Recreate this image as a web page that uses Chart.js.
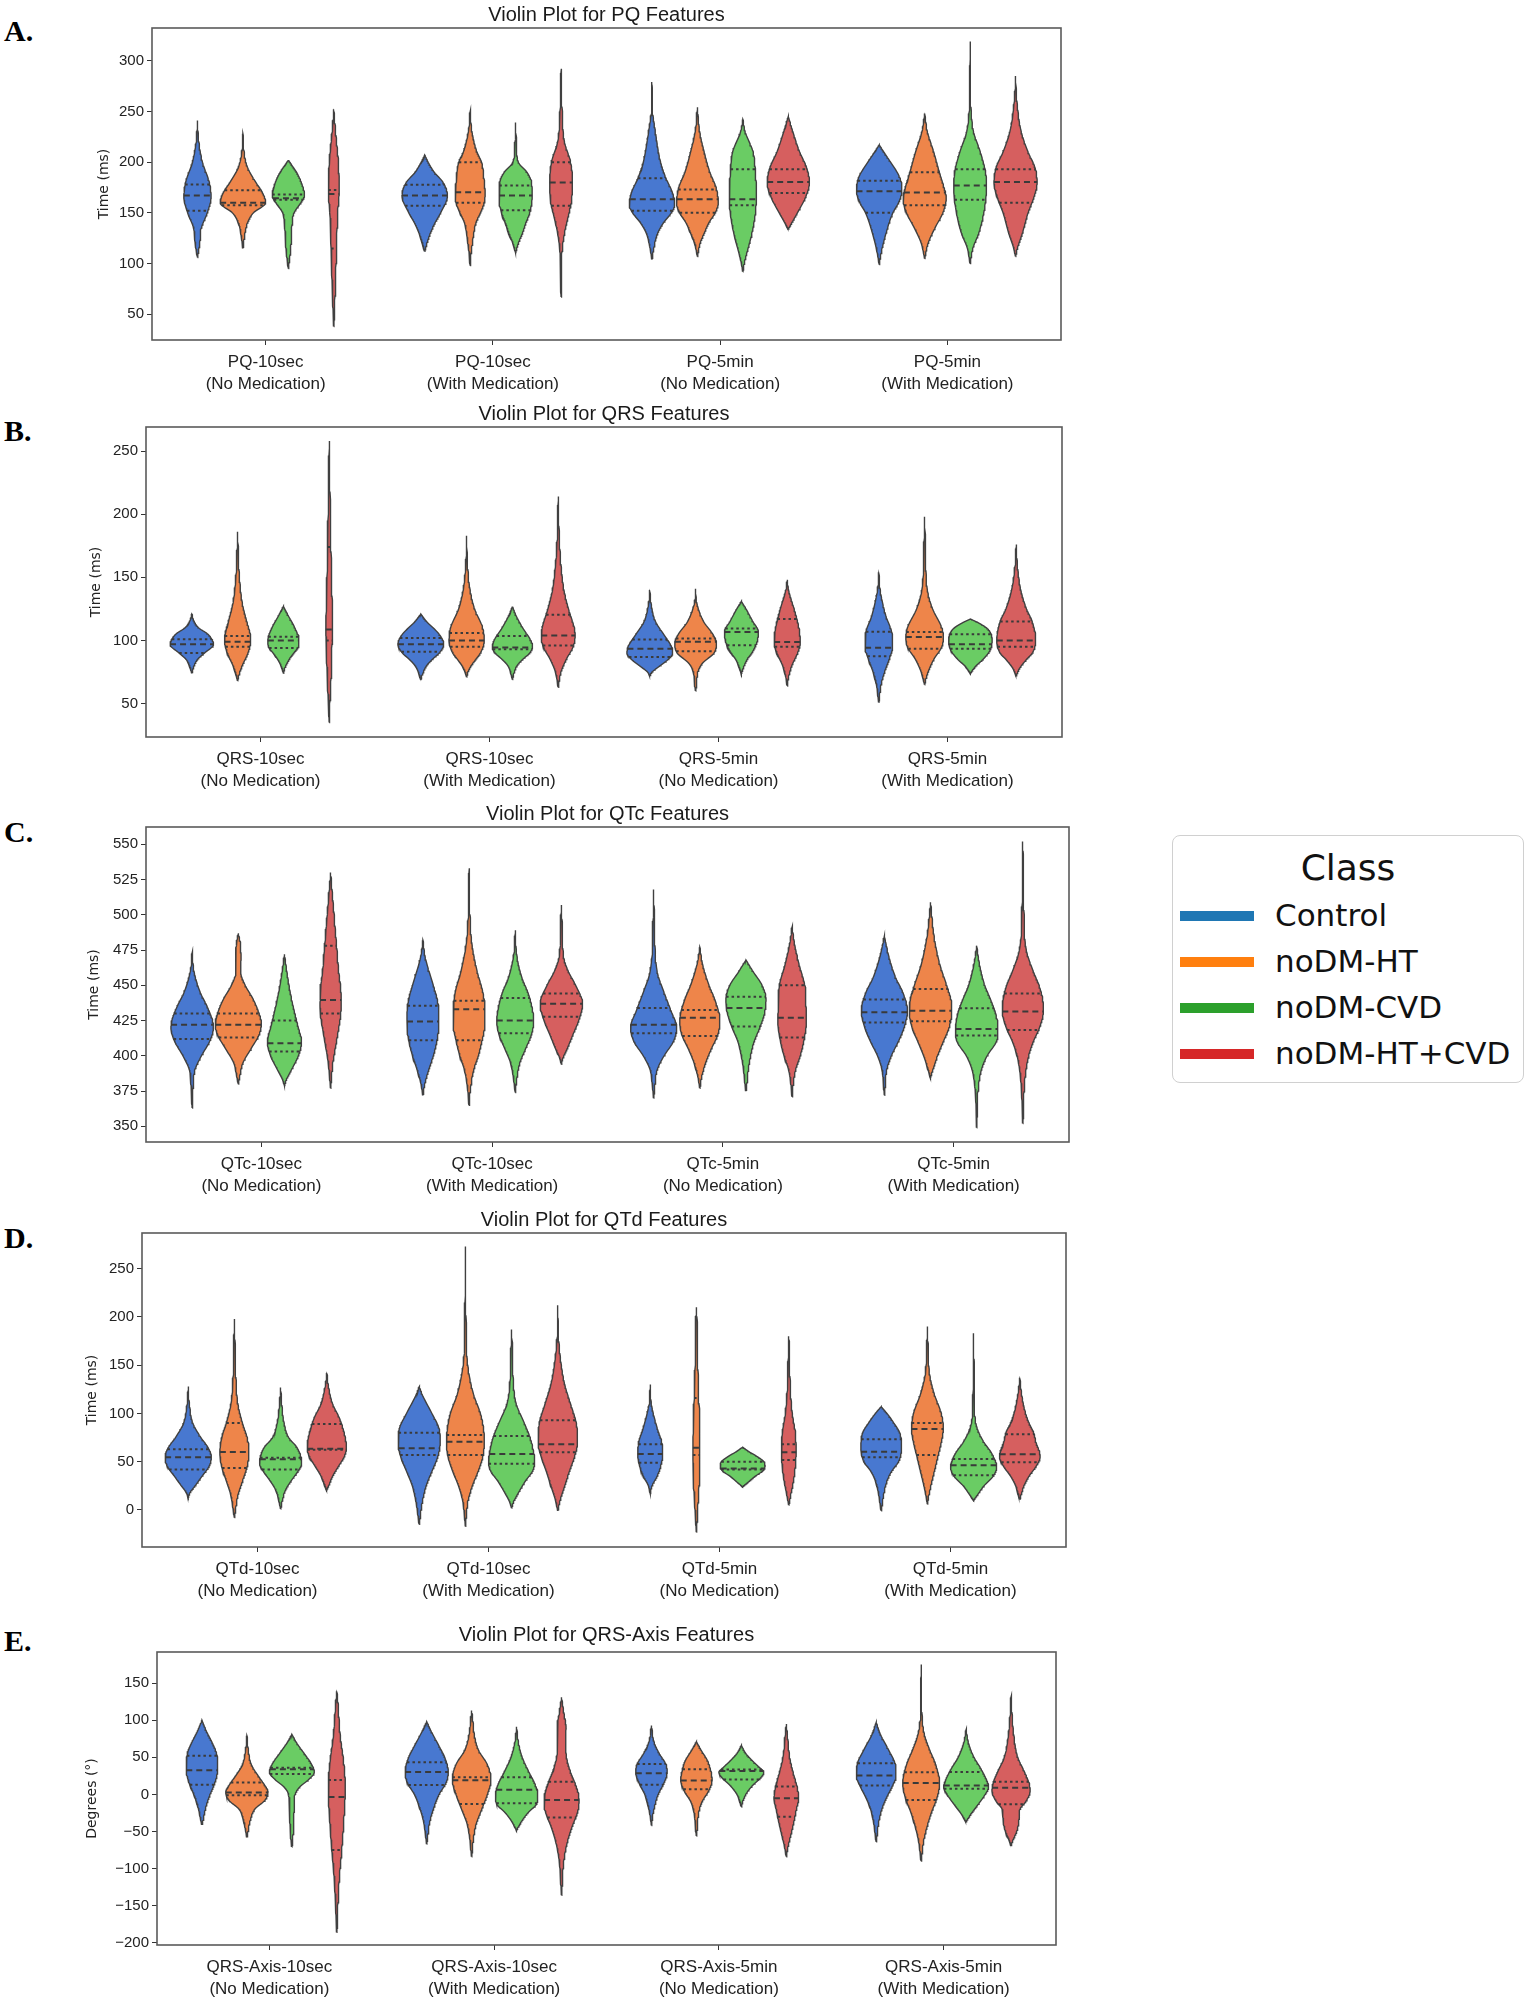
<!DOCTYPE html>
<html>
<head>
<meta charset="utf-8">
<script src="https://cdn.jsdelivr.net/npm/chart.js@4.4.0/dist/chart.umd.min.js"></script>
<style>
  body { margin: 0; background: #fff; width: 1535px; height: 2006px; position: relative; overflow: hidden; }
  canvas { position: absolute; left: 0; }
  .tag { position: absolute; left: 4px; font: bold 30px 'Liberation Serif', 'Times New Roman', serif; color: #000; transform: translateY(-50%); }
  #legend { position: absolute; left: 1172px; top: 835px; width: 352px; height: 248px; box-sizing: border-box;
            border: 1.5px solid #d0d0d0; border-radius: 8px; font-family: 'DejaVu Sans', sans-serif; color: #111; }
  #legend .head { position: absolute; left: 0; right: 0; top: 10px; text-align: center; font-size: 36px; line-height: 44px; }
  #legend .row { position: absolute; left: 7px; height: 40px; line-height: 40px; font-size: 31px; white-space: nowrap; }
  #legend .sw { display: inline-block; width: 74px; height: 10px; vertical-align: middle; margin-right: 21px; position: relative; top: -2px; }
</style>
</head>
<body>
<div id="legend"><div class="head">Class</div></div>
<script>
// Classes and colours
const classes = ['Control', 'noDM-HT', 'noDM-CVD', 'noDM-HT+CVD'];
const violinColors = ['#4878d0', '#ee854a', '#6acc64', '#d65f5f'];
const legendColors = ['#1f77b4', '#ff7f0e', '#2ca02c', '#d62728'];
const hueOffsets = [-0.3, -0.1, 0.1, 0.3];

// ---- PQ ----
const pqLabels = [['PQ-10sec', '(No Medication)'], ['PQ-10sec', '(With Medication)'], ['PQ-5min', '(No Medication)'], ['PQ-5min', '(With Medication)']];
const pqTicks = [50, 100, 150, 200, 250, 300];
const pqRange = [24.7, 332.2];
// [q1, median, q3] per violin, group by group
const pqQuartiles = [
  [152, 167, 178], [157.4, 160, 172.4], [163, 164.5, 168], [115, 168.5, 172.6],
  [157, 167, 177.6], [160, 170.4, 200], [152.6, 167, 177], [157, 180, 200],
  [152, 163.5, 184], [150, 163.5, 173], [157.5, 163.5, 193], [169.5, 180.5, 193],
  [150, 171.4, 181.6], [157.4, 170, 190], [163, 177, 193], [160, 180.5, 193]
];
// density outline: [value, relative width]
const pqShapes = [
  [[106,0],[120,0.1],[135,0.17],[150,0.43],[166,0.6],[180,0.52],[200,0.22],[220,0.06],[241,0]],
  [[115,0],[125,0.06],[140,0.2],[150,0.46],[160,1.0],[170,0.86],[180,0.57],[195,0.2],[210,0.05],[228,0]],
  [[95,0],[110,0.08],[120,0.12],[140,0.17],[150,0.25],[160,0.55],[167,0.71],[180,0.57],[190,0.36],[197,0.15],[202,0]],
  [[38,0],[60,0.04],[100,0.1],[150,0.17],[172,0.24],[200,0.2],[220,0.12],[240,0.04],[252,0]],
  [[112,0],[120,0.1],[130,0.25],[140,0.45],[150,0.7],[167,1.0],[180,0.81],[190,0.42],[200,0.15],[207,0]],
  [[98,0],[110,0.04],[120,0.1],[140,0.25],[150,0.45],[160,0.62],[170,0.66],[180,0.62],[200,0.5],[210,0.3],[230,0.08],[251,0]],
  [[111,0],[120,0.12],[130,0.3],[140,0.45],[150,0.62],[167,0.73],[180,0.7],[190,0.5],[200,0.12],[215,0.04],[239,0]],
  [[67,0],[90,0.02],[110,0.04],[130,0.15],[150,0.35],[160,0.45],[180,0.5],[200,0.42],[220,0.15],[250,0.05],[292,0]],
  [[104,0],[115,0.08],[130,0.25],[140,0.5],[150,0.85],[158,1.0],[170,0.9],[185,0.6],[200,0.38],[230,0.15],[250,0.03],[279,0]],
  [[107,0],[120,0.12],[130,0.3],[140,0.5],[150,0.78],[160,0.92],[175,0.82],[190,0.55],[210,0.3],[230,0.1],[254,0]],
  [[92,0],[100,0.06],[110,0.17],[130,0.4],[150,0.55],[170,0.6],[190,0.55],[210,0.45],[230,0.1],[242,0]],
  [[134,0],[140,0.15],[150,0.4],[165,0.75],[180,0.93],[195,0.8],[210,0.5],[230,0.2],[245,0]],
  [[99,0],[110,0.08],[130,0.3],[150,0.6],[160,0.85],[172,1.0],[185,0.9],[200,0.5],[210,0.2],[217,0]],
  [[105,0],[120,0.15],[135,0.45],[150,0.8],[165,0.95],[175,0.85],[190,0.65],[210,0.4],[230,0.12],[248,0]],
  [[100,0],[115,0.12],[130,0.38],[150,0.6],[175,0.72],[190,0.68],[210,0.45],[230,0.15],[260,0.03],[319,0]],
  [[107,0],[115,0.08],[130,0.3],[150,0.55],[165,0.8],[180,0.95],[195,0.85],[210,0.55],[230,0.25],[260,0.06],[285,0]]
];

// ---- QRS ----
const qrsLabels = [['QRS-10sec', '(No Medication)'], ['QRS-10sec', '(With Medication)'], ['QRS-5min', '(No Medication)'], ['QRS-5min', '(With Medication)']];
const qrsTicks = [50, 100, 150, 200, 250];
const qrsRange = [23.6, 269];
const qrsQuartiles = [
  [90, 97, 101], [95, 99, 103.6], [94, 100, 103], [100, 108.6, 174],
  [91, 97, 102], [95, 100, 106], [93, 94.5, 103.5], [96, 104, 120.4],
  [87, 93.5, 100.7], [91.5, 99, 101.5], [96.2, 106.7, 109.4], [95, 98.8, 117],
  [87.5, 94.3, 107], [93.5, 102.8, 106.7], [93.5, 97, 105], [95, 100, 115]
];
const qrsShapes = [
  [[74,0],[80,0.1],[85,0.25],[90,0.55],[97,0.95],[100,0.9],[105,0.7],[110,0.3],[115,0.1],[121,0]],
  [[68,0],[72,0.05],[80,0.2],[90,0.45],[100,0.57],[105,0.55],[115,0.4],[130,0.2],[150,0.08],[170,0.03],[186,0]],
  [[74,0],[78,0.06],[85,0.25],[90,0.45],[95,0.65],[100,0.68],[110,0.5],[120,0.2],[127,0]],
  [[35,0],[45,0.02],[70,0.08],[100,0.13],[108,0.15],[120,0.14],[150,0.1],[200,0.05],[258,0]],
  [[69,0],[72,0.05],[80,0.25],[85,0.5],[90,0.8],[97,1.0],[105,0.8],[115,0.25],[121,0]],
  [[71,0],[75,0.06],[80,0.2],[85,0.4],[90,0.6],[100,0.77],[110,0.7],[125,0.35],[140,0.15],[160,0.04],[183,0]],
  [[69,0],[72,0.04],[80,0.2],[85,0.45],[90,0.75],[95,0.88],[100,0.8],[110,0.45],[120,0.15],[127,0]],
  [[63,0],[75,0.12],[85,0.35],[95,0.65],[104,0.74],[110,0.7],[125,0.45],[140,0.25],[160,0.12],[180,0.05],[214,0]],
  [[72,0],[75,0.1],[80,0.45],[85,0.8],[90,1.0],[95,0.95],[105,0.6],[115,0.25],[130,0.05],[140,0]],
  [[60,0],[65,0.04],[75,0.1],[82,0.3],[90,0.8],[98,0.91],[105,0.75],[115,0.35],[130,0.05],[141,0]],
  [[74,0],[78,0.08],[85,0.25],[90,0.45],[95,0.6],[100,0.7],[107,0.74],[115,0.5],[125,0.2],[131,0]],
  [[64,0],[70,0.05],[80,0.2],[90,0.45],[98,0.57],[105,0.55],[115,0.45],[125,0.3],[140,0.06],[148,0]],
  [[51,0],[55,0.03],[65,0.1],[75,0.25],[85,0.45],[95,0.6],[105,0.58],[120,0.3],[140,0.06],[154,0]],
  [[65,0],[68,0.04],[75,0.15],[85,0.4],[95,0.75],[103,0.82],[110,0.75],[125,0.35],[140,0.12],[170,0.04],[198,0]],
  [[74,0],[76,0.08],[80,0.25],[85,0.55],[92,0.85],[100,0.95],[106,0.88],[110,0.7],[114,0.35],[117,0]],
  [[72,0],[78,0.15],[85,0.45],[90,0.7],[100,0.85],[115,0.7],[125,0.45],[140,0.2],[160,0.05],[176,0]]
];

// ---- QTc ----
const qtcLabels = [['QTc-10sec', '(No Medication)'], ['QTc-10sec', '(With Medication)'], ['QTc-5min', '(No Medication)'], ['QTc-5min', '(With Medication)']];
const qtcTicks = [350, 375, 400, 425, 450, 475, 500, 525, 550];
const qtcRange = [338.9, 562.3];
const qtcQuartiles = [
  [412, 422, 430], [413, 422, 430], [403, 409, 425], [430, 439.6, 478],
  [411, 424.3, 435.6], [411, 433, 439], [416, 425, 441], [427.8, 437, 444.3],
  [416, 422, 434], [414, 427, 432.5], [420.8, 434, 442], [413, 427, 450],
  [423.6, 431, 440], [424.5, 432, 447.4], [414.4, 419, 433.7], [418.4, 431.4, 444.3]
];
const qtcShapes = [
  [[363,0],[370,0.02],[380,0.05],[390,0.12],[400,0.4],[410,0.75],[420,0.92],[425,0.88],[435,0.65],[445,0.35],[460,0.08],[474,0]],
  [[380,0],[385,0.06],[395,0.2],[405,0.55],[415,0.9],[423,1.0],[430,0.9],[440,0.65],[450,0.3],[460,0.1],[470,0.12],[480,0.08],[487,0]],
  [[379,0],[383,0.08],[390,0.3],[400,0.6],[410,0.74],[420,0.6],[430,0.45],[445,0.25],[460,0.1],[472,0]],
  [[377,0],[385,0.04],[395,0.1],[410,0.25],[425,0.4],[435,0.46],[445,0.45],[460,0.35],[480,0.25],[500,0.15],[520,0.05],[530,0]],
  [[372,0],[380,0.08],[390,0.25],[400,0.45],[410,0.6],[420,0.68],[430,0.69],[440,0.62],[450,0.45],[470,0.1],[482,0]],
  [[365,0],[375,0.05],[390,0.2],[400,0.4],[410,0.55],[420,0.67],[430,0.69],[445,0.6],[460,0.35],[480,0.12],[500,0.04],[533,0]],
  [[374,0],[385,0.08],[395,0.2],[405,0.45],[415,0.7],[425,0.8],[435,0.72],[445,0.55],[455,0.3],[470,0.08],[489,0]],
  [[394,0],[398,0.06],[405,0.25],[415,0.5],[425,0.75],[437,0.92],[450,0.62],[460,0.3],[470,0.1],[490,0.04],[507,0]],
  [[370,0],[380,0.06],[390,0.15],[400,0.45],[410,0.85],[420,1.0],[432,0.75],[445,0.45],[460,0.15],[490,0.04],[518,0]],
  [[377,0],[385,0.08],[395,0.25],[405,0.5],[415,0.78],[425,0.87],[440,0.65],[450,0.4],[465,0.12],[477,0]],
  [[375,0],[380,0.04],[390,0.1],[400,0.2],[410,0.35],[420,0.6],[430,0.8],[440,0.87],[450,0.7],[460,0.3],[468,0]],
  [[371,0],[380,0.05],[390,0.15],[400,0.35],[410,0.5],[425,0.62],[435,0.6],[450,0.55],[465,0.3],[480,0.1],[492,0]],
  [[372,0],[380,0.04],[390,0.1],[400,0.3],[410,0.6],[420,0.85],[432,1.0],[445,0.8],[455,0.5],[470,0.2],[485,0]],
  [[385,0],[390,0.1],[400,0.3],[410,0.55],[420,0.8],[432,0.92],[440,0.88],[450,0.7],[465,0.4],[485,0.15],[500,0.05],[509,0]],
  [[349,0],[360,0.02],[375,0.06],[390,0.2],[400,0.45],[410,0.85],[418,0.92],[430,0.82],[440,0.6],[450,0.35],[465,0.12],[478,0]],
  [[352,0],[370,0.04],[385,0.1],[400,0.25],[410,0.45],[420,0.72],[432,0.89],[440,0.86],[450,0.7],[460,0.45],[475,0.15],[500,0.05],[530,0.02],[552,0]]
];

// ---- QTd ----
const qtdLabels = [['QTd-10sec', '(No Medication)'], ['QTd-10sec', '(With Medication)'], ['QTd-5min', '(No Medication)'], ['QTd-5min', '(With Medication)']];
const qtdTicks = [0, 50, 100, 150, 200, 250];
const qtdRange = [-38.4, 287];
const qtdQuartiles = [
  [42, 54.5, 63], [43.4, 60, 90], [42, 52.5, 54], [62.5, 63.5, 89],
  [57, 64, 80], [57, 70.8, 77.7], [48, 58, 76.6], [59.7, 68, 93],
  [49, 58, 68], [57, 64.5, 116], [42, 43, 50], [51.7, 59.7, 68],
  [54.5, 60.4, 73.2], [57, 84, 90], [36, 46.3, 52.8], [49.3, 57.6, 78.4]
];
const qtdShapes = [
  [[13,0],[18,0.08],[25,0.3],[35,0.6],[45,0.9],[55,1.0],[65,0.85],[75,0.55],[90,0.2],[110,0.05],[128,0]],
  [[-8,0],[0,0.05],[15,0.15],[30,0.35],[45,0.55],[60,0.63],[75,0.55],[90,0.35],[110,0.15],[140,0.06],[180,0.02],[198,0]],
  [[1,0],[8,0.06],[20,0.2],[30,0.45],[40,0.75],[48,0.91],[55,0.88],[65,0.7],[75,0.35],[90,0.15],[110,0.05],[127,0]],
  [[21,0],[25,0.08],[35,0.25],[45,0.5],[55,0.75],[65,0.85],[80,0.75],[95,0.55],[110,0.25],[130,0.06],[142,0]],
  [[-15,0],[-10,0.03],[0,0.08],[10,0.15],[25,0.3],[40,0.55],[55,0.8],[70,0.91],[85,0.85],[100,0.55],[120,0.12],[128,0]],
  [[-17,0],[0,0.06],[10,0.12],[25,0.3],[40,0.55],[55,0.75],[70,0.82],[85,0.78],[100,0.65],[120,0.35],[150,0.1],[180,0.04],[250,0.01],[273,0]],
  [[2,0],[8,0.08],[18,0.3],[30,0.6],[40,0.9],[50,1.0],[60,0.95],[75,0.8],[90,0.55],[110,0.2],[130,0.08],[160,0.04],[187,0]],
  [[-1,0],[10,0.1],[25,0.3],[40,0.5],[55,0.72],[70,0.85],[90,0.8],[110,0.55],[130,0.3],[150,0.15],[180,0.03],[212,0]],
  [[17,0],[25,0.08],[35,0.3],[45,0.45],[58,0.54],[70,0.5],[85,0.3],[110,0.05],[130,0]],
  [[-23,0],[-15,0.02],[10,0.08],[40,0.14],[70,0.15],[100,0.12],[150,0.06],[200,0.02],[210,0]],
  [[24,0],[26,0.1],[30,0.3],[35,0.55],[40,0.85],[45,0.97],[50,0.92],[55,0.65],[60,0.3],[65,0]],
  [[5,0],[15,0.08],[30,0.2],[45,0.28],[60,0.32],[80,0.28],[100,0.15],[130,0.06],[170,0.02],[180,0]],
  [[-1,0],[5,0.04],[15,0.1],[30,0.25],[40,0.45],[50,0.75],[65,0.88],[80,0.8],[90,0.55],[100,0.25],[107,0]],
  [[6,0],[12,0.04],[25,0.15],[40,0.3],[55,0.45],[70,0.6],[85,0.69],[100,0.6],[120,0.3],[140,0.1],[170,0.03],[190,0]],
  [[10,0],[15,0.15],[25,0.45],[35,0.85],[45,1.0],[50,0.95],[60,0.75],[70,0.45],[85,0.15],[100,0.05],[150,0.02],[183,0]],
  [[11,0],[15,0.05],[25,0.18],[35,0.4],[45,0.7],[55,0.88],[60,0.85],[70,0.7],[80,0.6],[90,0.4],[100,0.25],[120,0.08],[137,0]]
];

// ---- QRS-Axis ----
const axisLabels = [['QRS-Axis-10sec', '(No Medication)'], ['QRS-Axis-10sec', '(With Medication)'], ['QRS-Axis-5min', '(No Medication)'], ['QRS-Axis-5min', '(With Medication)']];
const axisTicks = [-200, -150, -100, -50, 0, 50, 100, 150];
const axisRange = [-203, 191.9];
const axisQuartiles = [
  [13, 32.6, 52], [-1.3, 2.7, 16], [27.5, 34, 36], [-75, -3.6, 19.5],
  [12.7, 30, 43.3], [-13, 19, 23], [-12, 6.3, 23], [-31, -7.5, 17],
  [13, 28.5, 41], [6.8, 18.6, 34], [20, 31.5, 33.5], [-30, -5.3, 10.5],
  [12, 25.3, 42], [-7.5, 15.4, 29.8], [7.5, 12, 30], [-13.4, 9, 17]
];
const axisShapes = [
  [[-41,0],[-35,0.05],[-20,0.15],[-5,0.3],[10,0.5],[20,0.62],[35,0.7],[55,0.65],[70,0.45],[85,0.2],[100,0]],
  [[-58,0],[-50,0.05],[-35,0.15],[-20,0.35],[-8,0.8],[3,0.94],[12,0.8],[25,0.5],[40,0.2],[60,0.06],[79,0]],
  [[-71,0],[-60,0.04],[-40,0.08],[-20,0.1],[0,0.15],[10,0.35],[20,0.75],[30,1.0],[42,0.85],[55,0.55],[70,0.2],[81,0]],
  [[-186,0],[-175,0.02],[-150,0.05],[-110,0.12],[-75,0.22],[-40,0.3],[-10,0.36],[10,0.38],[25,0.36],[50,0.28],[80,0.15],[120,0.06],[139,0]],
  [[-67,0],[-55,0.05],[-35,0.15],[-15,0.35],[0,0.55],[15,0.85],[30,0.96],[50,0.8],[65,0.55],[85,0.2],[98,0]],
  [[-84,0],[-75,0.03],[-60,0.08],[-40,0.2],[-20,0.45],[0,0.7],[20,0.86],[40,0.7],[60,0.3],[80,0.12],[100,0.05],[113,0]],
  [[-48,0],[-45,0.06],[-35,0.25],[-25,0.5],[-12,0.9],[0,0.94],[15,0.8],[30,0.55],[50,0.25],[70,0.08],[91,0]],
  [[-136,0],[-115,0.04],[-90,0.1],[-65,0.25],[-45,0.45],[-25,0.7],[-10,0.78],[0,0.75],[15,0.6],[30,0.4],[50,0.22],[70,0.18],[90,0.2],[110,0.1],[131,0]],
  [[-42,0],[-30,0.05],[-15,0.15],[0,0.3],[15,0.55],[30,0.7],[40,0.65],[55,0.35],[70,0.12],[93,0]],
  [[-56,0],[-45,0.04],[-25,0.1],[-10,0.25],[5,0.55],[20,0.7],[30,0.65],[45,0.5],[60,0.2],[71,0]],
  [[-17,0],[-10,0.06],[0,0.2],[12,0.5],[22,0.85],[30,1.0],[35,0.85],[45,0.5],[55,0.2],[66,0]],
  [[-84,0],[-70,0.08],[-55,0.2],[-35,0.35],[-20,0.45],[-5,0.55],[10,0.48],[30,0.3],[50,0.15],[80,0.05],[95,0]],
  [[-64,0],[-55,0.04],[-40,0.1],[-20,0.25],[-5,0.45],[10,0.7],[25,0.88],[40,0.85],[60,0.55],[80,0.2],[97,0]],
  [[-90,0],[-80,0.04],[-65,0.1],[-45,0.25],[-25,0.45],[-5,0.7],[15,0.82],[40,0.65],[60,0.38],[80,0.15],[100,0.05],[150,0.01],[175,0]],
  [[-37,0],[-33,0.08],[-25,0.25],[-15,0.5],[0,0.85],[10,1.0],[20,0.9],[35,0.65],[50,0.35],[70,0.1],[88,0]],
  [[-69,0],[-62,0.08],[-50,0.25],[-35,0.35],[-20,0.4],[-10,0.65],[5,0.85],[15,0.8],[30,0.6],[50,0.3],[80,0.12],[110,0.04],[133,0]]
];

// Panel layout (plot box in page pixels)
const panels = [
  { tag: 'A.', tagY: 31,   title: 'Violin Plot for PQ Features',       yTitle: 'Time (ms)',   labels: pqLabels,   ticks: pqTicks,   range: pqRange,   quart: pqQuartiles,   shapes: pqShapes,   L: 152, R: 1061, T: 28,   B: 340,  yTitleX: 104, gap: 13 },
  { tag: 'B.', tagY: 431,  title: 'Violin Plot for QRS Features',      yTitle: 'Time (ms)',   labels: qrsLabels,  ticks: qrsTicks,  range: qrsRange,  quart: qrsQuartiles,  shapes: qrsShapes,  L: 146, R: 1062, T: 427,  B: 737,  yTitleX: 96,  gap: 13 },
  { tag: 'C.', tagY: 832,  title: 'Violin Plot for QTc Features',      yTitle: 'Time (ms)',   labels: qtcLabels,  ticks: qtcTicks,  range: qtcRange,  quart: qtcQuartiles,  shapes: qtcShapes,  L: 146, R: 1069, T: 827,  B: 1142, yTitleX: 94,  gap: 13 },
  { tag: 'D.', tagY: 1238, title: 'Violin Plot for QTd Features',      yTitle: 'Time (ms)',   labels: qtdLabels,  ticks: qtdTicks,  range: qtdRange,  quart: qtdQuartiles,  shapes: qtdShapes,  L: 142, R: 1066, T: 1233, B: 1547, yTitleX: 92,  gap: 13 },
  { tag: 'E.', tagY: 1641, title: 'Violin Plot for QRS-Axis Features', yTitle: 'Degrees (°)', labels: axisLabels, ticks: axisTicks, range: axisRange, quart: axisQuartiles, shapes: axisShapes, L: 157, R: 1056, T: 1652, B: 1945, yTitleX: 92,  gap: 17 }
];

const sansFont = "'Liberation Sans', Arial, sans-serif";
const TITLE_SIZE = 20;
const X_AXIS_H = 70;

// Monotone cubic through the outline knots, returns width at a value
function smoothWidth(knots) {
  const xs = knots.map(k => k[0]), ys = knots.map(k => k[1]);
  const n = xs.length, d = [], m = [];
  for (let i = 0; i < n - 1; i++) d.push((ys[i + 1] - ys[i]) / (xs[i + 1] - xs[i]));
  m[0] = d[0]; m[n - 1] = d[n - 2];
  for (let i = 1; i < n - 1; i++) m[i] = d[i - 1] * d[i] <= 0 ? 0 : (d[i - 1] + d[i]) / 2;
  for (let i = 0; i < n - 1; i++) {
    if (d[i] === 0) { m[i] = 0; m[i + 1] = 0; continue; }
    const a = m[i] / d[i], b = m[i + 1] / d[i], s = a * a + b * b;
    if (s > 9) { const t = 3 / Math.sqrt(s); m[i] = t * a * d[i]; m[i + 1] = t * b * d[i]; }
  }
  const fn = v => {
    if (v <= xs[0] || v >= xs[n - 1]) return 0;
    let i = 0;
    while (v > xs[i + 1]) i++;
    const h = xs[i + 1] - xs[i], t = (v - xs[i]) / h, t2 = t * t, t3 = t2 * t;
    const w = (2 * t3 - 3 * t2 + 1) * ys[i] + (t3 - 2 * t2 + t) * h * m[i] +
              (-2 * t3 + 3 * t2) * ys[i + 1] + (t3 - t2) * h * m[i + 1];
    return Math.max(0, w);
  };
  fn.values = xs;
  return fn;
}

// box frame around the plot area
const framePlugin = {
  id: 'frame',
  afterDatasetsDraw(chart) {
    const { ctx, chartArea: a } = chart;
    ctx.save();
    ctx.strokeStyle = '#5a5a5a';
    ctx.lineWidth = 1.6;
    ctx.strokeRect(a.left, a.top, a.right - a.left, a.bottom - a.top);
    ctx.restore();
  }
};

panels.forEach(p => {
  const tag = document.createElement('div');
  tag.className = 'tag';
  tag.style.top = p.tagY + 'px';
  tag.textContent = p.tag;
  document.body.appendChild(tag);

  const titlePadBottom = p.gap - TITLE_SIZE * 1.2 / 2;
  const top = p.T - TITLE_SIZE * 1.2 - titlePadBottom;
  const height = Math.round(p.B - top + X_AXIS_H);
  const canvas = document.createElement('canvas');
  canvas.width = 1100;
  canvas.height = height;
  canvas.style.top = top + 'px';
  document.body.appendChild(canvas);

  const padLeft = p.yTitleX - 14 * 1.2 / 2;
  const datasets = [];
  const medians = [], quarts = [];

  p.shapes.forEach((knots, i) => {
    const g = Math.floor(i / 4), c = i % 4;
    const center = g + hueOffsets[c];
    const w = smoothWidth(knots);
    const vals = [];
    for (let k = 0; k < w.values.length - 1; k++) {
      const a = w.values[k], b = w.values[k + 1];
      for (let s = 0; s < 10; s++) vals.push(a + (b - a) * s / 10);
    }
    vals.push(w.values[w.values.length - 1]);
    const right = vals.map(v => ({ x: center + 0.1 * w(v), y: v }));
    const left = vals.slice().reverse().map(v => ({ x: center - 0.1 * w(v), y: v }));
    datasets.push({
      label: classes[c],
      data: right.concat(left),
      showLine: true,
      pointRadius: 0,
      borderColor: '#404040',
      borderWidth: 1.4,
      backgroundColor: violinColors[c],
      fill: 'shape',
      tension: 0,
      order: 2
    });
    const [q1, med, q3] = p.quart[i];
    medians.push({ x: center - 0.1 * w(med), y: med }, { x: center + 0.1 * w(med), y: med }, { x: null, y: null });
    [q1, q3].forEach(q => quarts.push({ x: center - 0.1 * w(q), y: q }, { x: center + 0.1 * w(q), y: q }, { x: null, y: null }));
  });

  datasets.push({ label: 'median', data: medians, showLine: true, pointRadius: 0, borderColor: '#3a3a3a', borderWidth: 2, borderDash: [6, 4], fill: false, spanGaps: false, order: 0 });
  datasets.push({ label: 'quartiles', data: quarts, showLine: true, pointRadius: 0, borderColor: '#3a3a3a', borderWidth: 2, borderDash: [2.5, 3], fill: false, spanGaps: false, order: 1 });

  const gridOpts = { display: true, drawOnChartArea: false, drawTicks: true, tickLength: 5, tickColor: '#333', tickWidth: 1 };

  new Chart(canvas, {
    type: 'scatter',
    data: { datasets },
    options: {
      responsive: false,
      animation: false,
      events: [],
      layout: { padding: { left: padLeft, right: 1100 - p.R, top: 0, bottom: 0 } },
      plugins: {
        legend: { display: false },
        tooltip: { enabled: false },
        title: {
          display: true, text: p.title, fullSize: false, color: '#1a1a1a',
          font: { family: sansFont, size: TITLE_SIZE, weight: 'normal' },
          padding: { top: 0, bottom: titlePadBottom }
        }
      },
      scales: {
        x: {
          type: 'linear', min: -0.5, max: 3.5,
          afterBuildTicks: s => { s.ticks = [0, 1, 2, 3].map(v => ({ value: v })); },
          afterFit: s => { s.height = X_AXIS_H; },
          grid: gridOpts,
          border: { display: false },
          ticks: {
            autoSkip: false, maxRotation: 0, padding: 7, color: '#222',
            font: { family: sansFont, size: 17, lineHeight: 1.25 },
            callback: v => p.labels[v]
          }
        },
        y: {
          type: 'linear', min: p.range[0], max: p.range[1],
          afterBuildTicks: s => { s.ticks = p.ticks.map(v => ({ value: v })); },
          afterFit: s => { s.width = p.L - padLeft; },
          grid: gridOpts,
          border: { display: false },
          ticks: {
            padding: 3, color: '#222',
            font: { family: sansFont, size: 15 },
            callback: v => String(v).replace('-', '\u2212')
          },
          title: {
            display: true, text: p.yTitle, color: '#222', padding: 0,
            font: { family: "'DejaVu Sans', sans-serif", size: 14 }
          }
        }
      }
    },
    plugins: [framePlugin]
  });
});

// Legend
const legend = document.getElementById('legend');
classes.forEach((name, i) => {
  const row = document.createElement('div');
  row.className = 'row';
  row.style.top = (59 + i * 46) + 'px';
  const sw = document.createElement('span');
  sw.className = 'sw';
  sw.style.background = legendColors[i];
  row.appendChild(sw);
  row.appendChild(document.createTextNode(name));
  legend.appendChild(row);
});
</script>
</body>
</html>
